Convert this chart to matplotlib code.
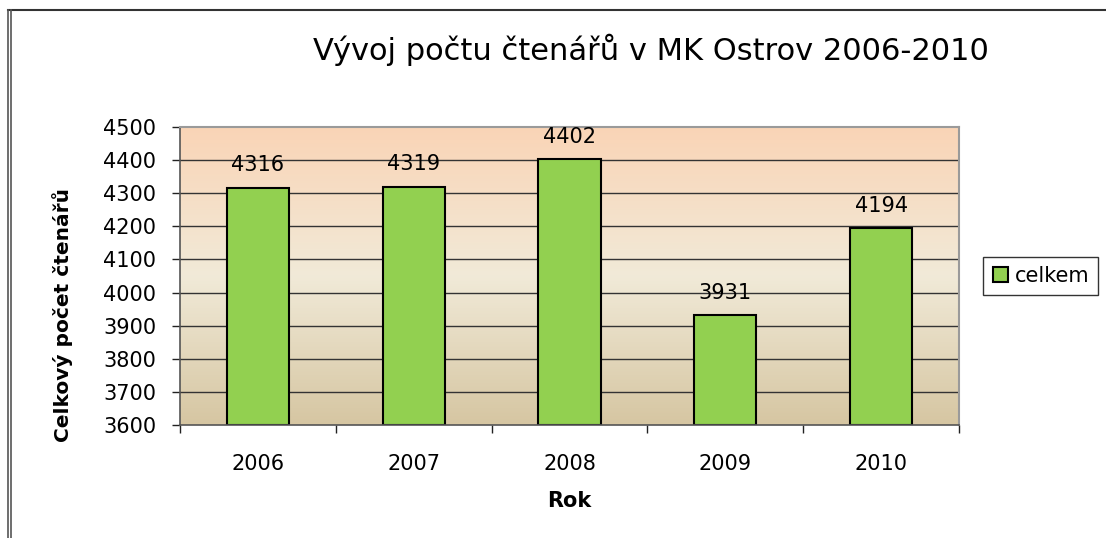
import matplotlib
matplotlib.use('Agg')
import matplotlib.pyplot as plt
import numpy as np
from matplotlib.colors import LinearSegmentedColormap
from matplotlib.lines import Line2D

plt.rcParams['font.family'] = ['DejaVu Sans']

roky = ['2006', '2007', '2008', '2009', '2010']
celkem = [4316, 4319, 4402, 3931, 4194]
y_min = 3600
y_max = 4500

fig = plt.figure(figsize=(11.06, 5.38), dpi=100)
ax = fig.add_axes([0.1627, 0.21, 0.7044, 0.554])

x = np.arange(len(roky))
ax.set_xlim(-0.5, len(roky) - 0.5)
ax.set_ylim(y_min, y_max)

# gradient pozadi
cmap = LinearSegmentedColormap.from_list('bg', ['#D6C6A2', '#F1EAD8', '#FAD4B6'])
grad = np.linspace(0, 1, 256).reshape(-1, 1)
ax.imshow(grad, cmap=cmap, aspect='auto', origin='lower',
          extent=[-0.5, len(roky) - 0.5, y_min, y_max], zorder=0)

for yv in range(y_min + 100, y_max, 100):
    ax.axhline(yv, color='#333333', linewidth=1.0, zorder=1)

bars = ax.bar(x, [v - y_min for v in celkem], bottom=y_min, width=0.4,
              color='#92D050', edgecolor='black', linewidth=1.5, zorder=2,
              label='celkem')

for xi, v in zip(x, celkem):
    ax.annotate(str(v), (xi, v), xytext=(0, 9), textcoords='offset points',
                ha='center', va='bottom', fontsize=15)

ax.set_yticks(range(y_min, y_max + 1, 100))
ax.tick_params(axis='y', direction='out', length=6, width=1, pad=11,
               labelsize=15, color='#222222')
ax.set_xticks(x)
ax.set_xticklabels(roky)
ax.tick_params(axis='x', length=0, pad=21, labelsize=15)
ax.set_xticks(np.arange(-0.5, len(roky), 1), minor=True)
ax.tick_params(axis='x', which='minor', direction='out', length=6, width=1,
               color='#222222')

for s in ['top', 'right']:
    ax.spines[s].set_color('#9A9A9A')
    ax.spines[s].set_linewidth(1.5)
for s in ['left', 'bottom']:
    ax.spines[s].set_color('#555555')
    ax.spines[s].set_linewidth(1.2)

ax.set_xlabel('Rok', fontsize=15, fontweight='bold', labelpad=12)
ax.set_ylabel('Celkový počet čtenářů', fontsize=14.5, fontweight='bold')
ax.yaxis.set_label_coords(-0.137, 0.37)

fig.text(0.589, 0.907, 'Vývoj počtu čtenářů v MK Ostrov 2006-2010',
         ha='center', va='center', fontsize=22)

leg = fig.legend(handles=[bars], labels=['celkem'], loc='center left',
                 bbox_to_anchor=(0.889, 0.487), borderaxespad=0, fontsize=15,
                 frameon=True, fancybox=False, edgecolor='black',
                 handlelength=0.75, handleheight=0.75, handletextpad=0.3,
                 borderpad=0.45)
leg.get_frame().set_linewidth(1.0)

# ramecek obrazku
fig.add_artist(Line2D([8 / 1106, 1.0], [1 - 10 / 538, 1 - 10 / 538],
                      color='#333333', linewidth=1.5))
fig.add_artist(Line2D([8 / 1106, 8 / 1106], [0, 1 - 10 / 538],
                      color='#555555', linewidth=1.2))
fig.add_artist(Line2D([11 / 1106, 11 / 1106], [0, 1 - 10 / 538],
                      color='#555555', linewidth=1.2))

fig.savefig('out.png', dpi=100)
